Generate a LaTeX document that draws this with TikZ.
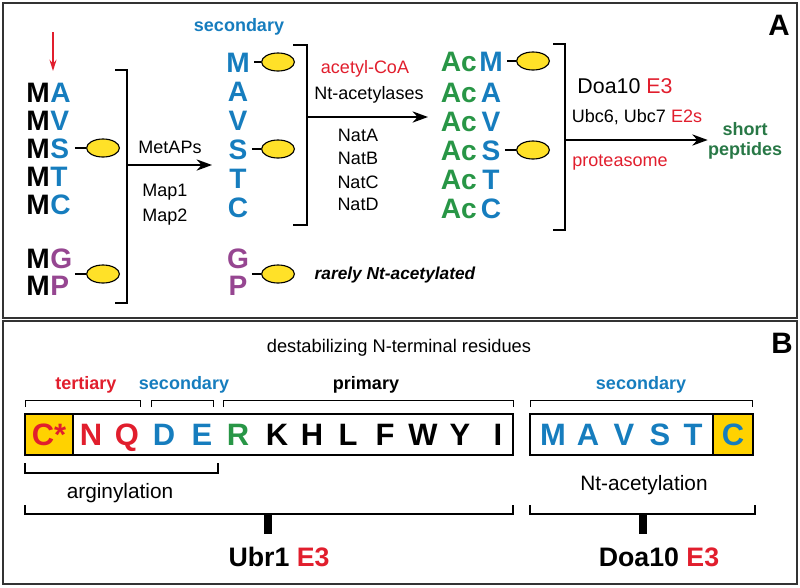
\documentclass[tikz,border=0pt]{standalone}
\usepackage{fontspec}
\setmainfont{Liberation Sans}
\usetikzlibrary{arrows.meta,shapes.geometric}
\definecolor{resblue}{RGB}{22,125,190}
\definecolor{resred}{RGB}{225,30,45}
\definecolor{acgreen}{RGB}{40,150,70}
\definecolor{pepgreen}{RGB}{40,120,70}
\definecolor{respurple}{RGB}{150,70,145}
\definecolor{blobyellow}{RGB}{255,225,40}
\definecolor{cellyellow}{RGB}{255,210,0}
\tikzset{
  res/.style={font=\bfseries\fontsize{20}{20}\selectfont, inner sep=0pt, text height=14.3pt, text depth=0pt},
  resb/.style={font=\bfseries\fontsize{22}{22}\selectfont, inner sep=0pt, text height=15.8pt, text depth=0pt},
  lbl/.style={font=\fontsize{12.8}{15}\selectfont, inner sep=0pt},
  blbl/.style={font=\bfseries\fontsize{12.8}{15}\selectfont, inner sep=0pt},
  blob/.style={ellipse, draw, line width=0.8pt, fill=blobyellow, minimum width=0.82cm, minimum height=0.45cm, inner sep=0pt},
  brk/.style={line width=1.6pt},
  thinbrk/.style={line width=0.7pt},
  bigbrk/.style={line width=1.9pt},
  stem/.style={line width=5.5pt},
  arr/.style={line width=1.5pt, -{Stealth[length=11pt,width=8pt]}},
  tie/.style={line width=0.8pt},
}
\begin{document}
\begin{tikzpicture}[x=0.025cm,y=-0.025cm]
\useasboundingbox (0,0) rectangle (800,587);
\draw[line width=1pt, black!80] (3,3) rectangle (797,318);
\draw[line width=1pt, black!80] (3,321) rectangle (797,584);
\node[res, font=\bfseries\fontsize{21}{21}\selectfont] (labA) at (779,25) {A};
\node[res, font=\bfseries\fontsize{21}{21}\selectfont] (labB) at (782,343) {B};

\coordinate (cut) at (53,32);
\coordinate (cutend) at (53,71);
\draw[resred, line width=1.2pt, -{Stealth[length=8pt,width=5pt]}] (cut) -- (cutend);

\foreach \ltr/\yy/\cc [count=\i] in {A/92/resblue,V/120/resblue,S/148/resblue,T/176/resblue,C/204/resblue,G/258/respurple,P/285/respurple} {
  \node[res, anchor=east] (m\i) at (50,\yy) {M};
  \node[res, anchor=west, text=\cc] (a\i) at (50,\yy) {\ltr};
}
\node[blob] (e1) at (103,148) {};
\node[blob] (e2) at (103,274) {};
\draw[tie] ([xshift=4pt]a3.east) -- (e1.west);
\draw[tie] ([xshift=4pt]a7.east |- e2.west) -- (e2.west);

\draw[brk] (115,70) -- (127,70) -- (127,303) -- (115,303);
\coordinate (k1) at (127,165);
\coordinate (k1end) at (212,165);
\draw[arr] (k1) -- (k1end);
\node[lbl] (metaps) at (170,147) {MetAPs};
\node[lbl] (map1) at (165,192) {Map1};
\node[lbl] (map2) at (165,217) {Map2};

\node[blbl, text=resblue] (sec0) at (239,27) {secondary};
\foreach \ltr/\yy/\cc [count=\i] in {M/62/resblue,A/91/resblue,V/120/resblue,S/149/resblue,T/178/resblue,C/207/resblue,G/258/respurple,P/285/respurple} {
  \node[res, text=\cc] (b\i) at (238,\yy) {\ltr};
}
\node[blob] (f1) at (278,62) {};
\node[blob] (f2) at (278,149) {};
\node[blob] (f3) at (278,274) {};
\draw[tie] ([xshift=3pt]b1.east) -- (f1.west);
\draw[tie] ([xshift=3pt]b4.east) -- (f2.west);
\draw[tie] ([xshift=3pt]b8.east |- f3.west) -- (f3.west);
\node[font=\bfseries\itshape\fontsize{12.3}{15}\selectfont, inner sep=0pt] (rare) at (395,275) {rarely Nt-acetylated};

\draw[brk] (293,45) -- (307,45) -- (307,225) -- (293,225);
\coordinate (k2) at (307,117);
\coordinate (k2end) at (428,117);
\draw[arr] (k2) -- (k2end);
\node[lbl, text=resred] (acoa) at (365,69) {acetyl-CoA};
\node[lbl] (nats) at (369,95) {Nt-acetylases};
\foreach \nm/\yy in {A/135,B/158,C/182,D/204} {
  \node[lbl] (nat\nm) at (358,\yy) {Nat\nm};
}

\foreach \ltr/\yy [count=\i] in {M/61,A/92,V/121,S/150,T/179,C/208} {
  \node[res, anchor=east, text=acgreen] (ac\i) at (477,\yy) {Ac};
  \node[res, text=resblue] (c\i) at (491,\yy) {\ltr};
}
\node[blob] (g1) at (533,61) {};
\node[blob] (g2) at (533,150) {};
\draw[tie] ([xshift=3pt]c1.east) -- (g1.west);
\draw[tie] ([xshift=3pt]c4.east) -- (g2.west);

\draw[brk] (553,44) -- (565,44) -- (565,230) -- (553,230);
\node[blbl, text=pepgreen, align=center] (pep) at (745,141) {short\\[-1pt]peptides};
\coordinate (k3) at (565,140);
\draw[arr] (k3) -- (k3 -| pep.west);
\node[lbl, font=\fontsize{15.2}{18}\selectfont] (doa) at (625,86) {Doa10 \textcolor{resred}{E3}};
\node[lbl] (ubc) at (637,117) {Ubc6, Ubc7 \textcolor{resred}{E2s}};
\node[lbl, text=resred] (prot) at (620,163) {proteasome};

\node[lbl, font=\fontsize{13}{15}\selectfont] (destab) at (399,348) {destabilizing N-terminal residues};
\node[blbl, text=resred] (tert) at (86,385) {tertiary};
\node[blbl, text=resblue] (sec1) at (184,385) {secondary};
\node[blbl] (prim) at (366,385) {primary};
\node[blbl, text=resblue] (sec2) at (641,385) {secondary};
\draw[thinbrk] (25,407) -- (25,400) -- (140,400) -- (140,407);
\draw[thinbrk] (151,407) -- (151,400) -- (213,400) -- (213,407);
\draw[thinbrk] (223,407) -- (223,400) -- (513,400) -- (513,407);
\draw[thinbrk] (530,407) -- (530,400) -- (752,400) -- (752,407);

\draw[line width=0.8pt] (25,414) rectangle (513,455);
\filldraw[line width=0.8pt, fill=cellyellow] (25,414) rectangle (73,455);
\foreach \ltr/\xx/\cc [count=\i] in {C*/49/resred,N/91/resred,Q/127/resred,D/164/resblue,E/202/resblue,R/238/acgreen,K/277/black,H/312/black,L/348/black,F/385/black,W/423/black,Y/460/black,I/498/black} {
  \node[resb, text=\cc] (r\i) at (\xx,434) {\ltr};
}
\draw[line width=0.8pt] (530,414) rectangle (753,455);
\filldraw[line width=0.8pt, fill=cellyellow] (713,414) rectangle (753,455);
\foreach \ltr/\xx [count=\i] in {M/553,A/588,V/624,S/660,T/693,C/733} {
  \node[resb, text=resblue] (s\i) at (\xx,434) {\ltr};
}

\draw[bigbrk] (25,463) -- (25,473) -- (218,473) -- (218,463);
\node[lbl, font=\fontsize{14.8}{18}\selectfont] (argin) at (120,493) {arginylation};
\node[lbl, font=\fontsize{14.8}{18}\selectfont] (ntac) at (644,485) {Nt-acetylation};

\draw[bigbrk] (25,505) -- (25,514) -- (513,514) -- (513,505);
\draw[bigbrk] (530,505) -- (530,514) -- (755,514) -- (755,505);
\coordinate (ub) at (268,514);
\coordinate (db) at (643,514);
\draw[stem] (ub) -- ++(0,20);
\draw[stem] (db) -- ++(0,20);
\node[blbl, font=\bfseries\fontsize{19}{22}\selectfont] (ubr) at (279,557) {Ubr1 \textcolor{resred}{E3}};
\node[blbl, font=\bfseries\fontsize{19}{22}\selectfont] (doab) at (659,557) {Doa10 \textcolor{resred}{E3}};
\end{tikzpicture}
\end{document}
